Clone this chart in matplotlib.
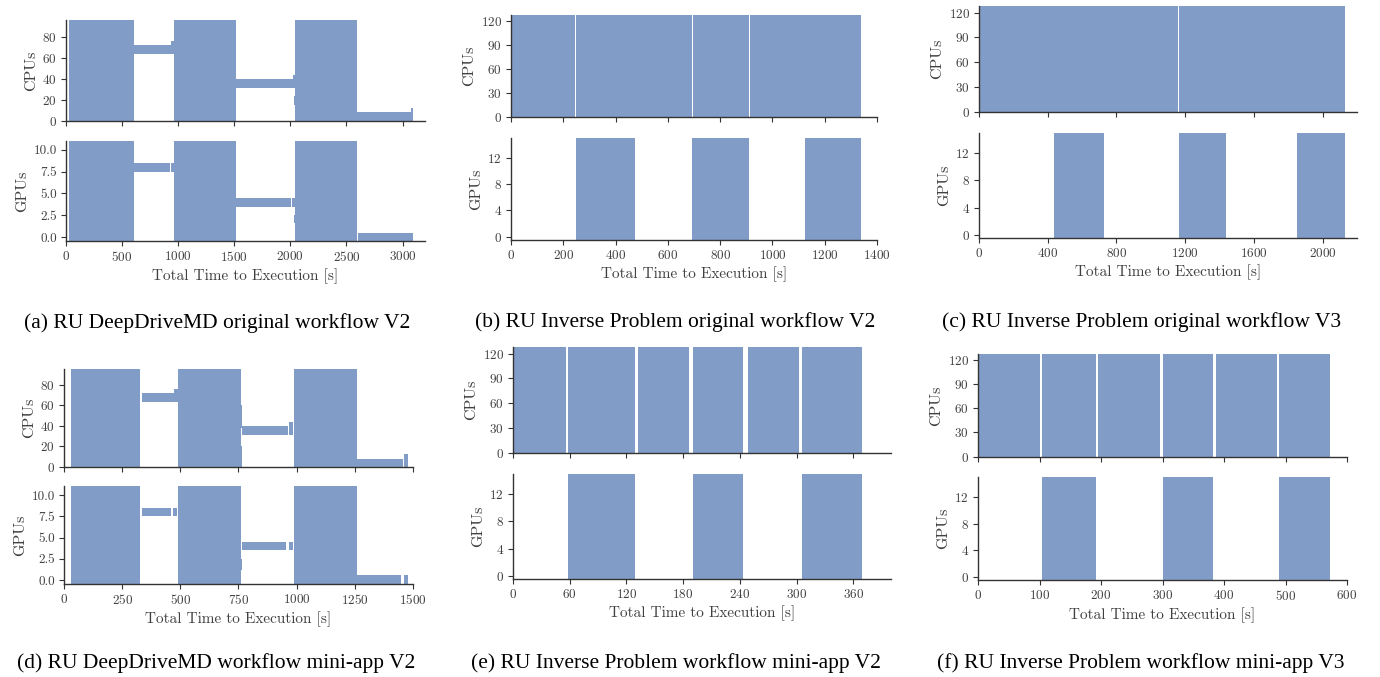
import matplotlib
matplotlib.use("Agg")
import matplotlib.pyplot as plt

# --- Resource occupation blocks: (start [s], end [s], low, high) ---
# (a) DeepDriveMD original V2
a_cpu = [(24, 607, 0, 96), (607, 938, 63.5, 72), (938, 964, 63.5, 76),
         (964, 1515, 0, 96), (1515, 2025, 31, 39.7), (2025, 2045, 31, 43.5),
         (2035, 2045, 15, 24), (2045, 2595, 0, 96),
         (2595, 3071, 0, 8.3), (3071, 3095, 0, 12)]
a_gpu = [(24, 607, -0.45, 11), (607, 928, 7.44, 8.47), (938, 964, 7.44, 8.47),
         (964, 1515, -0.45, 11), (1515, 2010, 3.43, 4.47), (2018, 2045, 3.43, 4.47),
         (2035, 2045, 1.6, 2.5), (2045, 2595, -0.45, 11), (2601, 3095, -0.45, 0.46)]

# (d) DeepDriveMD mini-app V2
d_cpu = [(30, 328, 0, 95.4), (335, 471, 63.7, 71.9), (471, 489, 63.7, 75.8),
         (489, 761, 0, 95.4), (761, 765, 38, 60), (761, 765, 0, 20),
         (766, 963, 31.4, 39.9), (966, 983, 31.4, 43.8),
         (987, 1261, 0, 95.4), (1261, 1458, 0, 7.5), (1461, 1477, 0, 12.4)]
d_gpu = [(30, 328, -0.47, 11.06), (336, 461, 7.56, 8.5), (470, 486, 7.56, 8.5),
         (489, 761, -0.47, 11.06), (761, 765, 1.2, 2.5),
         (767, 953, 3.5, 4.49), (966, 983, 3.5, 4.49),
         (987, 1261, -0.47, 11.06), (1261, 1448, -0.47, 0.55), (1461, 1477, -0.47, 0.55)]

# (b) Inverse Problem original V2
b_cpu = [(3, 244, -0.5, 127.5), (248, 692, -0.5, 127.5),
         (696, 910, -0.5, 127.5), (914, 1340, -0.5, 127.5)]
b_gpu = [(248, 476, -0.5, 15), (694, 910, -0.5, 15), (1123, 1340, -0.5, 15)]

# (c) Inverse Problem original V3
c_cpu = [(2, 1157, -0.5, 128), (1163, 2130, -0.5, 128)]
c_gpu = [(437, 726, -0.5, 15), (1165, 1437, -0.5, 15), (1852, 2130, -0.5, 15)]

# (e) Inverse Problem mini-app V2
e_cpu = [(0.3, 56.2, -0.5, 128), (58.3, 129.3, -0.5, 128), (132.5, 186.5, -0.5, 128),
         (190.7, 243.7, -0.5, 128), (249, 303, -0.5, 128), (306.3, 368.8, -0.5, 128)]
e_gpu = [(58.3, 129.3, -0.5, 15), (190.7, 243.7, -0.5, 15), (306.3, 368.8, -0.5, 15)]

# (f) Inverse Problem mini-app V3
f_cpu = [(0, 101.4, -0.5, 127.5), (104.6, 192.4, -0.5, 127.5), (195.7, 296.5, -0.5, 127.5),
         (301.4, 382.7, -0.5, 127.5), (387.5, 486.7, -0.5, 127.5), (490, 572.9, -0.5, 127.5)]
f_gpu = [(104.6, 192.4, -0.5, 15.1), (301.4, 382.7, -0.5, 15.1), (490, 572.9, -0.5, 15.1)]

captions = ["(a) RU DeepDriveMD original workflow V2",
            "(b) RU Inverse Problem original workflow V2",
            "(c) RU Inverse Problem original workflow V3",
            "(d) RU DeepDriveMD workflow mini-app V2",
            "(e) RU Inverse Problem workflow mini-app V2",
            "(f) RU Inverse Problem workflow mini-app V3"]

# --- Style ---
W, H = 1380, 677
BAR = "#829CC8"
INK = "0.25"
plt.rcParams.update({
    "font.family": "serif",
    "font.serif": ["cmr10"],
    "axes.formatter.use_mathtext": True,
    "font.size": 9.5,
    "axes.edgecolor": "0.2",
    "axes.linewidth": 1.0,
    "xtick.color": "0.2",
    "ytick.color": "0.2",
    "xtick.labelcolor": INK,
    "ytick.labelcolor": INK,
    "xtick.major.size": 3.5,
    "ytick.major.size": 3.5,
    "xtick.major.pad": 3,
    "ytick.major.pad": 3,
    "axes.labelcolor": INK,
})

fig = plt.figure(figsize=(W / 100, H / 100), dpi=100)


def px_axes(left, right, top, bottom):
    return fig.add_axes([left / W, 1 - bottom / H, (right - left) / W, (bottom - top) / H])


def draw_blocks(ax, blocks):
    starts = [b[0] for b in blocks]
    widths = [b[1] - b[0] for b in blocks]
    lows = [b[2] for b in blocks]
    heights = [b[3] - b[2] for b in blocks]
    ax.bar(starts, heights, width=widths, bottom=lows, align="edge",
           color=BAR, linewidth=0)


def make_panel(left, right, cpu_tb, gpu_tb, cpu, gpu, xlim, xticks,
               cpu_lim, cpu_ticks, gpu_lim, gpu_ticks, gpu_labels):
    ax1 = px_axes(left, right, *cpu_tb)
    ax2 = px_axes(left, right, *gpu_tb)
    draw_blocks(ax1, cpu)
    draw_blocks(ax2, gpu)
    for ax in (ax1, ax2):
        ax.spines["top"].set_visible(False)
        ax.spines["right"].set_visible(False)
        ax.set_xlim(*xlim)
        ax.set_xticks(xticks)
    ax1.set_xticklabels([])
    ax1.set_ylim(*cpu_lim)
    ax1.set_yticks(cpu_ticks)
    ax2.set_ylim(*gpu_lim)
    ax2.set_yticks(gpu_ticks)
    if gpu_labels is not None:
        ax2.set_yticklabels(gpu_labels)
    ax1.set_ylabel("CPUs", fontsize=11.5, labelpad=3)
    ax2.set_ylabel("GPUs", fontsize=11.5, labelpad=3)
    ax2.set_xlabel("Total Time to Execution [s]", fontsize=11, labelpad=3)
    return ax1, ax2


ddmd_gpu_ticks = [0, 2.5, 5, 7.5, 10]
ddmd_gpu_labels = ["0.0", "2.5", "5.0", "7.5", "10.0"]

make_panel(66, 425, (20, 121), (141, 241), a_cpu, a_gpu, (0, 3200),
           range(0, 3001, 500), (0, 96), range(0, 81, 20),
           (-0.45, 11), ddmd_gpu_ticks, ddmd_gpu_labels)
make_panel(511, 877, (15, 117), (138, 240), b_cpu, b_gpu, (0, 1400),
           range(0, 1401, 200), (-0.5, 127.5), range(0, 121, 30),
           (-0.5, 15), [0, 4, 8, 12], None)
make_panel(979, 1357, (6, 112), (133, 238), c_cpu, c_gpu, (0, 2200),
           range(0, 2001, 400), (-0.5, 128), range(0, 121, 30),
           (-0.5, 15), [0, 4, 8, 12], None)
make_panel(64, 413, (369, 467), (486, 584), d_cpu, d_gpu, (0, 1500),
           range(0, 1501, 250), (0, 95.4), range(0, 81, 20),
           (-0.47, 11.06), ddmd_gpu_ticks, ddmd_gpu_labels)
make_panel(513, 891, (347, 453), (474, 579), e_cpu, e_gpu, (0, 400),
           range(0, 361, 60), (-0.5, 128), range(0, 121, 30),
           (-0.5, 15), [0, 4, 8, 12], None)
make_panel(978, 1347, (354, 457), (477, 580), f_cpu, f_gpu, (0, 600),
           range(0, 601, 100), (-0.5, 127.5), range(0, 121, 30),
           (-0.5, 15.1), [0, 4, 8, 12], None)

caption_pos = [(217, 323), (675, 322), (1142, 322), (216, 663), (676, 663), (1141, 663)]
for text, (cx, cy) in zip(captions, caption_pos):
    fig.text(cx / W, 1 - cy / H, text, ha="center", va="center",
             fontsize=15.5, family="Liberation Serif", color="black")

fig.savefig("out.png", dpi=100)
